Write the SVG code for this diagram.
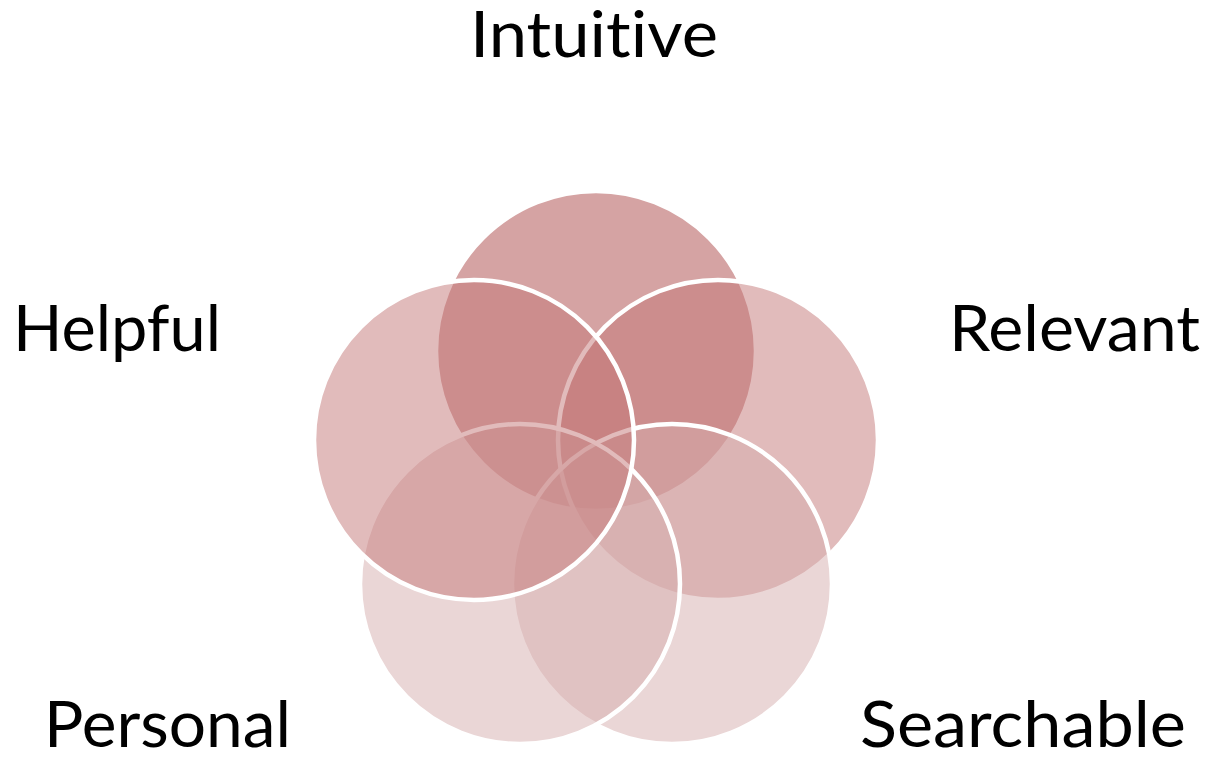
<svg xmlns="http://www.w3.org/2000/svg" width="1211" height="759" viewBox="0 0 1211 759">
  <style>
    .c { stroke: #ffffff; stroke-width: 4.5; }
    .t { font-family: Lato, "Open Sans", "Liberation Sans", sans-serif; font-size: 63px; fill: #000000; font-variant-ligatures: none; font-feature-settings: "liga" 0, "clig" 0; }
  </style>
  <rect width="1211" height="759" fill="#ffffff"/>
  <g id="nodes">
    <g id="intuitive">
      <circle class="c" cx="596" cy="351" r="160" fill="rgb(171,71,71)" fill-opacity="0.5"/>
      <text class="t" x="470" y="57" textLength="248" lengthAdjust="spacingAndGlyphs">Intuitive</text>
    </g>
    <g id="relevant">
      <circle class="c" cx="718" cy="440" r="160" fill="rgb(195,119,119)" fill-opacity="0.5"/>
      <text class="t" x="949" y="351" textLength="251" lengthAdjust="spacingAndGlyphs">Relevant</text>
    </g>
    <g id="searchable">
      <circle class="c" cx="672" cy="584" r="160" fill="rgb(213,173,173)" fill-opacity="0.5"/>
      <text class="t" x="860" y="747" textLength="326" lengthAdjust="spacingAndGlyphs">Searchable</text>
    </g>
    <g id="personal">
      <circle class="c" cx="520" cy="584" r="160" fill="rgb(213,173,173)" fill-opacity="0.5"/>
      <text class="t" x="44" y="747" textLength="247" lengthAdjust="spacingAndGlyphs">Personal</text>
    </g>
    <g id="helpful">
      <circle class="c" cx="474" cy="440" r="160" fill="rgb(195,119,119)" fill-opacity="0.5"/>
      <text class="t" x="13" y="351" textLength="208" lengthAdjust="spacingAndGlyphs">Helpful</text>
    </g>
  </g>
  <g id="connectors"/>
</svg>
